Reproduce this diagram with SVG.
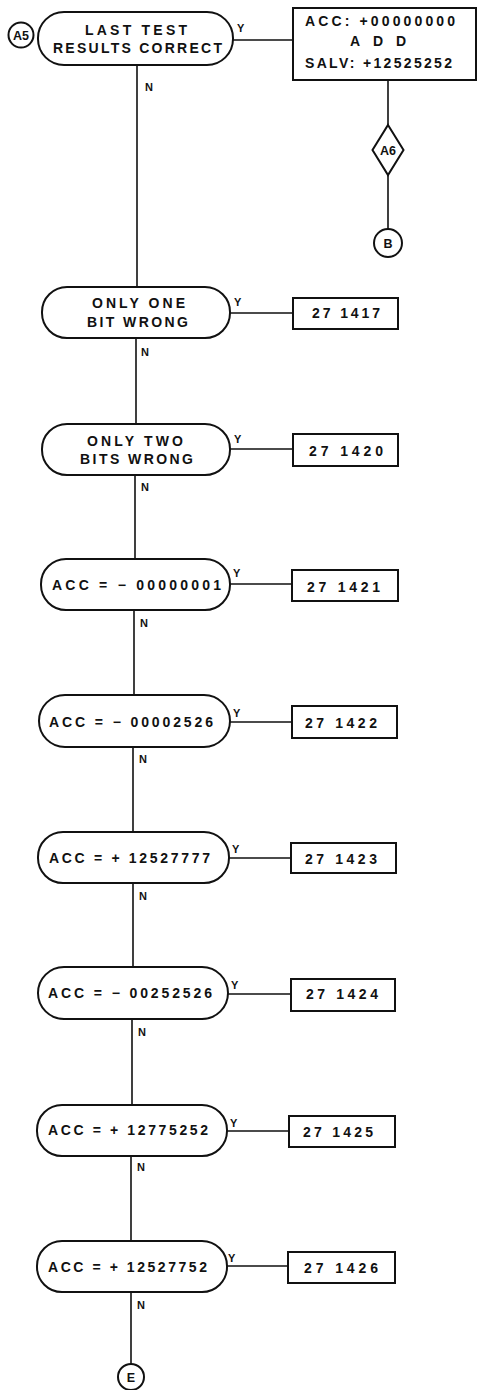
<svg xmlns="http://www.w3.org/2000/svg" width="480" height="1390" viewBox="0 0 480 1390">
<style>
.s{fill:#fff;stroke:#111;stroke-width:2}
.c{fill:none;stroke:#111;stroke-width:1.6}
.t{font-family:"Liberation Sans",Arial,sans-serif;font-weight:bold;font-size:14px;fill:#111}
.l{font-family:"Liberation Sans",Arial,sans-serif;font-weight:bold;font-size:11px;fill:#111}
.k{font-family:"Liberation Sans",Arial,sans-serif;font-weight:bold;font-size:12.5px;fill:#111}
</style>
<rect width="480" height="1390" fill="#fff"/>
<g id="connectors">
<path class="c" d="M137 65V287M136 338V424M135 475V559M134 610V695M133 747V832M133 883V967M132 1019V1105M131 1156V1241M131 1292V1364"/>
<path class="c" d="M233 40H293M388 80V125M388 175V229M230 313H293M230 449H293M230 584H292M230 722H292M229 858H291M228 994H291M227 1131H289M227 1266H288"/>
<text class="l" x="237" y="32">Y</text><text class="l" x="145" y="91">N</text>
<text class="l" x="234" y="306">Y</text><text class="l" x="141" y="356">N</text>
<text class="l" x="234" y="443">Y</text><text class="l" x="141" y="491">N</text>
<text class="l" x="233" y="577">Y</text><text class="l" x="140" y="627">N</text>
<text class="l" x="233" y="717">Y</text><text class="l" x="139" y="763">N</text>
<text class="l" x="232" y="853">Y</text><text class="l" x="139" y="900">N</text>
<text class="l" x="231" y="989">Y</text><text class="l" x="138" y="1036">N</text>
<text class="l" x="230" y="1127">Y</text><text class="l" x="137" y="1171">N</text>
<text class="l" x="228" y="1262">Y</text><text class="l" x="137" y="1309">N</text>
</g>
<g id="A5"><circle class="s" cx="21" cy="35" r="12.5"/><text class="k" x="21" y="39.5" text-anchor="middle">A5</text></g>
<g id="t1"><rect class="s" x="38" y="12" width="195" height="53" rx="26"/>
<text class="t" x="85" y="35" textLength="102" lengthAdjust="spacing">LAST TEST</text>
<text class="t" x="53" y="53" textLength="169" lengthAdjust="spacing">RESULTS CORRECT</text></g>
<g id="b1"><rect class="s" x="293" y="8" width="183" height="72"/>
<text class="t" x="305" y="26" textLength="150" lengthAdjust="spacing">ACC: +00000000</text>
<text class="t" x="350" y="46" textLength="56" lengthAdjust="spacing">ADD</text>
<text class="t" x="305" y="68" textLength="147" lengthAdjust="spacing">SALV: +12525252</text></g>
<g id="A6"><path class="s" d="M388 125L403.5 150L388 175L372.5 150Z"/><text class="k" x="388" y="154.5" text-anchor="middle">A6</text></g>
<g id="B"><circle class="s" cx="388" cy="243" r="14"/><text class="k" x="388" y="247.5" text-anchor="middle">B</text></g>
<g id="t2"><rect class="s" x="42" y="287" width="188" height="51" rx="25"/>
<text class="t" x="92" y="308" textLength="93" lengthAdjust="spacing">ONLY ONE</text>
<text class="t" x="87" y="327" textLength="101" lengthAdjust="spacing">BIT WRONG</text></g>
<g id="b2"><rect class="s" x="293" y="298" width="105" height="31"/><text class="t" x="312" y="318" textLength="68" lengthAdjust="spacing">27 1417</text></g>
<g id="t3"><rect class="s" x="42" y="424" width="188" height="51" rx="25"/>
<text class="t" x="87" y="446" textLength="96" lengthAdjust="spacing">ONLY TWO</text>
<text class="t" x="80" y="464" textLength="113" lengthAdjust="spacing">BITS WRONG</text></g>
<g id="b3"><rect class="s" x="293" y="434" width="105" height="32"/><text class="t" x="309" y="456" textLength="74" lengthAdjust="spacing">27 1420</text></g>
<g id="t4"><rect class="s" x="41" y="559" width="189" height="51" rx="25"/>
<text class="t" x="52" y="590" textLength="169" lengthAdjust="spacing">ACC = − 00000001</text></g>
<g id="b4"><rect class="s" x="292" y="570" width="106" height="31"/><text class="t" x="307" y="592" textLength="73" lengthAdjust="spacing">27 1421</text></g>
<g id="t5"><rect class="s" x="39" y="695" width="191" height="52" rx="26"/>
<text class="t" x="49" y="727" textLength="164" lengthAdjust="spacing">ACC = − 00002526</text></g>
<g id="b5"><rect class="s" x="292" y="706" width="105" height="32"/><text class="t" x="305" y="728" textLength="72" lengthAdjust="spacing">27 1422</text></g>
<g id="t6"><rect class="s" x="38" y="832" width="191" height="51" rx="25"/>
<text class="t" x="49" y="863" textLength="161" lengthAdjust="spacing">ACC = + 12527777</text></g>
<g id="b6"><rect class="s" x="291" y="843" width="105" height="30"/><text class="t" x="305" y="864" textLength="72" lengthAdjust="spacing">27 1423</text></g>
<g id="t7"><rect class="s" x="38" y="967" width="190" height="52" rx="26"/>
<text class="t" x="48" y="998" textLength="164" lengthAdjust="spacing">ACC = − 00252526</text></g>
<g id="b7"><rect class="s" x="291" y="979" width="104" height="32"/><text class="t" x="306" y="999" textLength="72" lengthAdjust="spacing">27 1424</text></g>
<g id="t8"><rect class="s" x="37" y="1105" width="190" height="51" rx="25"/>
<text class="t" x="48" y="1135" textLength="160" lengthAdjust="spacing">ACC = + 12775252</text></g>
<g id="b8"><rect class="s" x="289" y="1116" width="106" height="31"/><text class="t" x="303" y="1137" textLength="70" lengthAdjust="spacing">27 1425</text></g>
<g id="t9"><rect class="s" x="37" y="1241" width="190" height="51" rx="25"/>
<text class="t" x="48" y="1272" textLength="159" lengthAdjust="spacing">ACC = + 12527752</text></g>
<g id="b9"><rect class="s" x="288" y="1252" width="107" height="31"/><text class="t" x="304" y="1273" textLength="74" lengthAdjust="spacing">27 1426</text></g>
<g id="E"><circle class="s" cx="131" cy="1377" r="13"/><text class="k" x="131" y="1381.5" text-anchor="middle">E</text></g>
</svg>
